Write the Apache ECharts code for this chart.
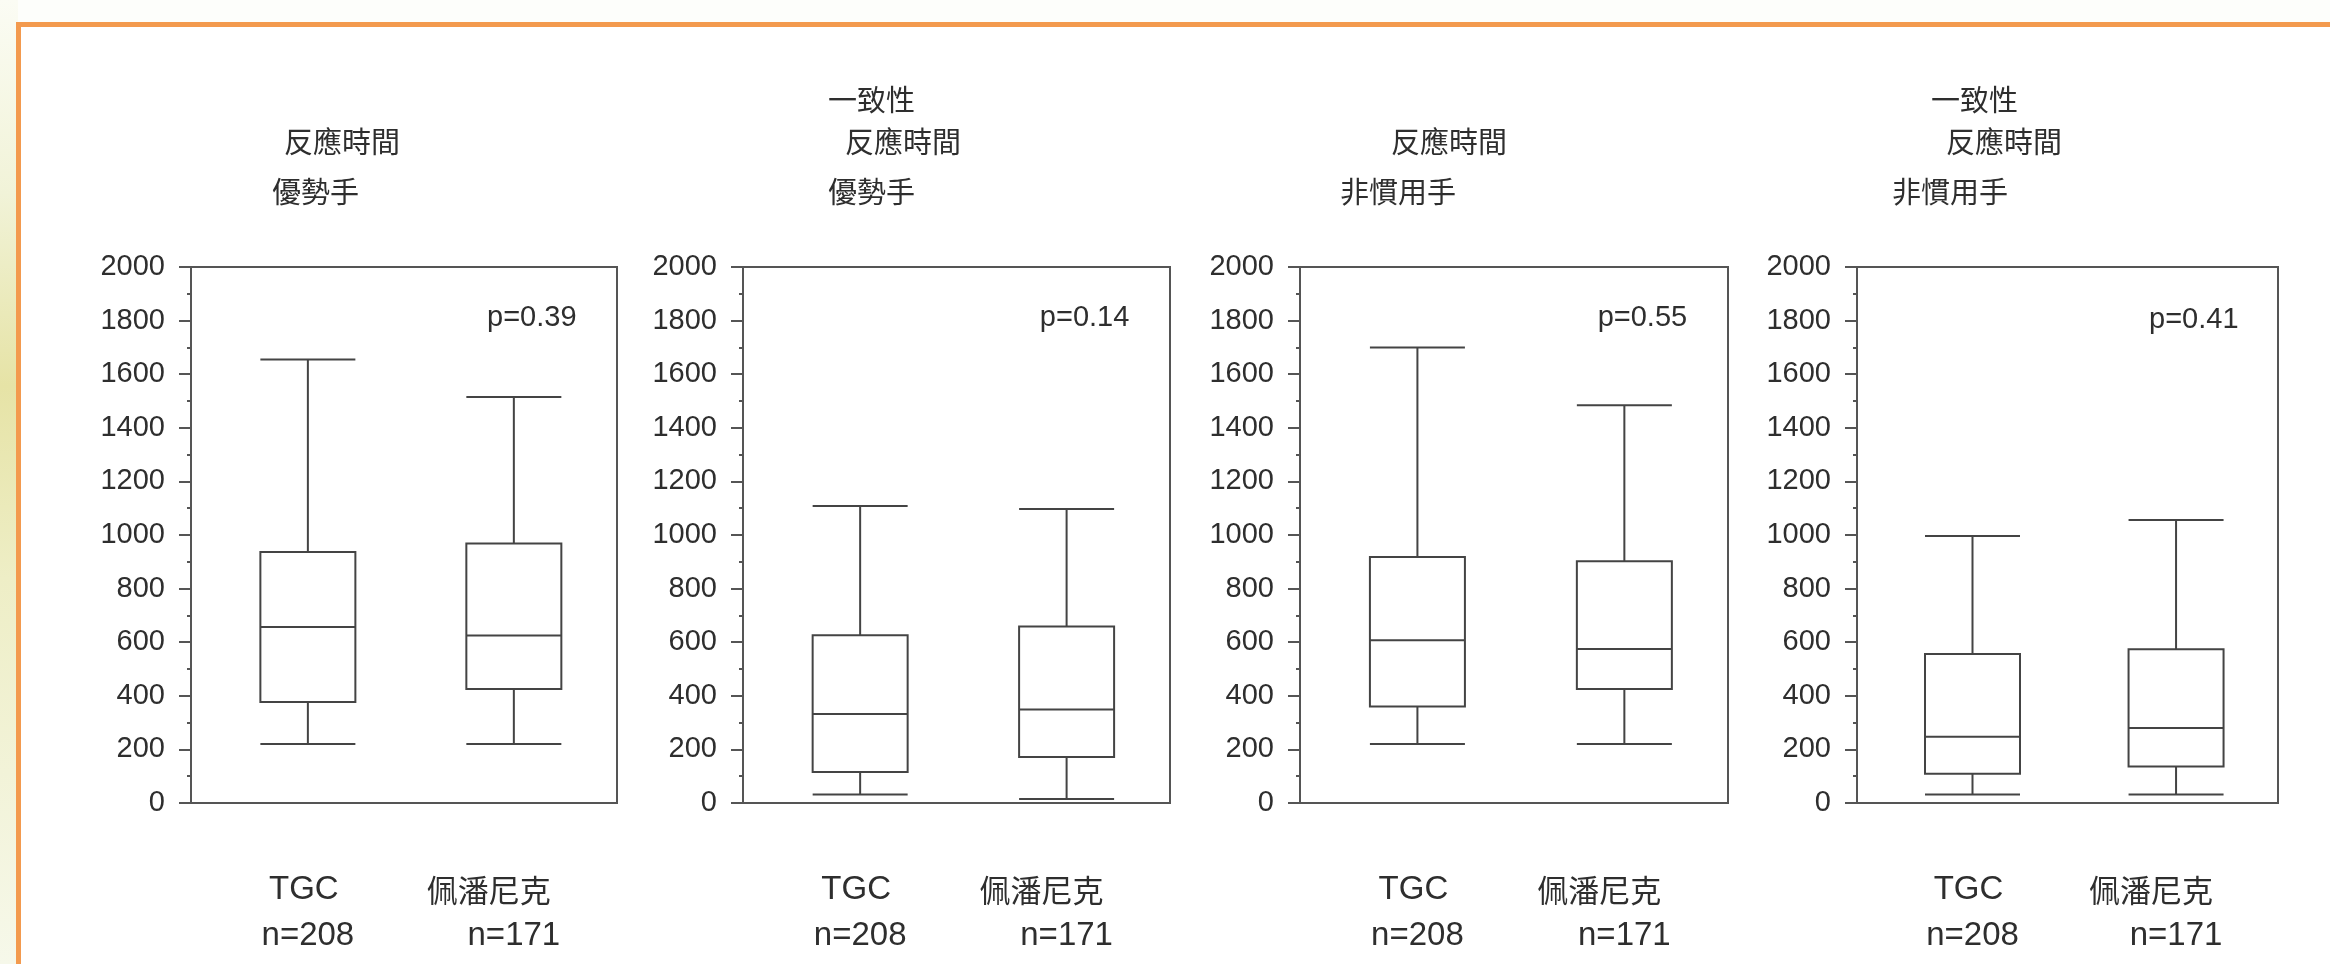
<!DOCTYPE html>
<html><head><meta charset="utf-8">
<script src="https://cdn.jsdelivr.net/npm/echarts@6/dist/echarts.min.js"></script>
<style>html,body{margin:0;padding:0;background:#fff}#c{width:2330px;height:964px}</style>
</head><body><div id="c"></div>
<script>
// ---------------- data ----------------
const categories = ['TGC', '佩潘尼克'];
const sampleSizes = ['n=208', 'n=171'];
const yMin = 0, yMax = 2000, yInterval = 200;
const panelTitles = [
  ['反應時間', '優勢手'],
  ['一致性', '反應時間', '優勢手'],
  ['反應時間', '非慣用手'],
  ['一致性', '反應時間', '非慣用手']
];
const pValues = ['p=0.39', 'p=0.14', 'p=0.55', 'p=0.41'];
// [min, Q1, median, Q3, max]
const panel1TGC = [220, 377, 657, 937, 1655];
const panel1Pep = [220, 425, 625, 968, 1515];
const panel2TGC = [32, 116, 332, 626, 1108];
const panel2Pep = [15, 172, 349, 659, 1097];
const panel3TGC = [220, 360, 607, 918, 1700];
const panel3Pep = [220, 425, 575, 902, 1484];
const panel4TGC = [32, 109, 247, 556, 996];
const panel4Pep = [32, 136, 280, 574, 1056];
const panelData = [
  [panel1TGC, panel1Pep],
  [panel2TGC, panel2Pep],
  [panel3TGC, panel3Pep],
  [panel4TGC, panel4Pep]
];

// ---------------- layout ----------------
const W = 2330, H = 964;
const TOP = 267, BOTTOM = 803;
const frames = [[191, 617], [743, 1170], [1300, 1728], [1857, 2278]];
const titlePos = [
  [[284, 142], [272, 192]],
  [[828, 100], [845, 142], [828, 192]],
  [[1391, 142], [1340, 192]],
  [[1931, 100], [1946, 142], [1892, 192]]
];
const pValueY = [318, 318, 318, 320];
const TXT = '#2e2e2e';
const LINE = '#444';
const FONT = "'Liberation Sans', 'Noto Sans CJK TC', sans-serif";
const CJK = "'Noto Sans CJK TC', sans-serif";

const grid = [], xAxis = [], yAxis = [], series = [], graphic = [];

// background outside the orange frame
graphic.push({
  type: 'rect', z: -20, shape: {x: 0, y: 0, width: 18, height: H},
  style: {fill: new echarts.graphic.LinearGradient(0, 0, 0, 1, [
    {offset: 0, color: '#fbfcf4'},
    {offset: 0.2, color: '#f1f3d8'},
    {offset: 0.4, color: '#e6e3a6'},
    {offset: 0.6, color: '#eeeec6'},
    {offset: 1, color: '#f6f8ea'}
  ])}
});
graphic.push({
  type: 'rect', z: -20, shape: {x: 18, y: 0, width: W, height: 22},
  style: {fill: '#fdfefb'}
});
graphic.push({
  type: 'rect', z: 100, shape: {x: 18.5, y: 24.5, width: W + 40, height: H + 40},
  style: {fill: 'none', stroke: '#f39a4e', lineWidth: 5}
});

frames.forEach(([l, r], i) => {
  const w = r - l;
  // frame grid with y axis
  grid.push({left: l, top: TOP, width: w, height: BOTTOM - TOP, show: true,
    borderColor: '#555', borderWidth: 2, backgroundColor: 'transparent'});
  // box grid (slightly shifted so category centres match)
  const bl = l + 0.0326 * w, bw = 0.967 * w;
  grid.push({left: bl, top: TOP, width: bw, height: BOTTOM - TOP, show: false});

  xAxis.push({gridIndex: 2 * i, type: 'category', data: categories, show: false});
  xAxis.push({
    gridIndex: 2 * i + 1, type: 'category', data: categories, boundaryGap: true,
    axisLine: {show: false}, axisTick: {show: false},
    axisLabel: {
      interval: 0, margin: 64, color: TXT, fontFamily: FONT,
      formatter: (v, idx) => (idx === 0 ? '{a|' + v + '}' : '{b|' + v + '}') + '\n{n|' + sampleSizes[idx] + '}',
      rich: {
        a: {fontSize: 33, lineHeight: 46, color: TXT, fontFamily: FONT, padding: [0, 8, 0, 0]},
        b: {fontSize: 31, lineHeight: 46, color: TXT, fontFamily: CJK, padding: [0, 50, 0, 0]},
        n: {fontSize: 33, lineHeight: 46, color: TXT, fontFamily: FONT}
      }
    }
  });
  yAxis.push({
    gridIndex: 2 * i, type: 'value', min: yMin, max: yMax, interval: yInterval,
    axisLine: {show: true, lineStyle: {color: '#555', width: 2}},
    axisTick: {show: true, length: 12, lineStyle: {color: '#555', width: 2}},
    minorTick: {show: true, splitNumber: 2, length: 4, lineStyle: {color: '#555', width: 2}},
    splitLine: {show: false},
    axisLabel: {margin: 26, fontSize: 29, color: TXT, fontFamily: FONT, formatter: v => String(v)}
  });
  yAxis.push({gridIndex: 2 * i + 1, type: 'value', min: yMin, max: yMax, show: false, splitLine: {show: false}});

  series.push({
    type: 'boxplot', xAxisIndex: 2 * i + 1, yAxisIndex: 2 * i + 1,
    data: panelData[i], boxWidth: [95, 95], silent: true,
    itemStyle: {color: 'rgba(255,255,255,0)', borderColor: LINE, borderWidth: 2},
    emphasis: {disabled: true}
  });

  panelTitles[i].forEach((t, k) => {
    graphic.push({type: 'text', x: titlePos[i][k][0], y: titlePos[i][k][1],
      style: {text: t, fontSize: 29, fontFamily: CJK, fill: TXT, align: 'left', verticalAlign: 'middle'}});
  });
  graphic.push({type: 'text', x: l + 0.80 * w, y: pValueY[i],
    style: {text: pValues[i], fontSize: 29, fontFamily: FONT, fill: TXT, align: 'center', verticalAlign: 'middle'}});
});

const chart = echarts.init(document.getElementById('c'), null, {renderer: 'canvas'});
chart.setOption({
  backgroundColor: '#ffffff',
  animation: false,
  grid, xAxis, yAxis, series, graphic
});
</script></body></html>
